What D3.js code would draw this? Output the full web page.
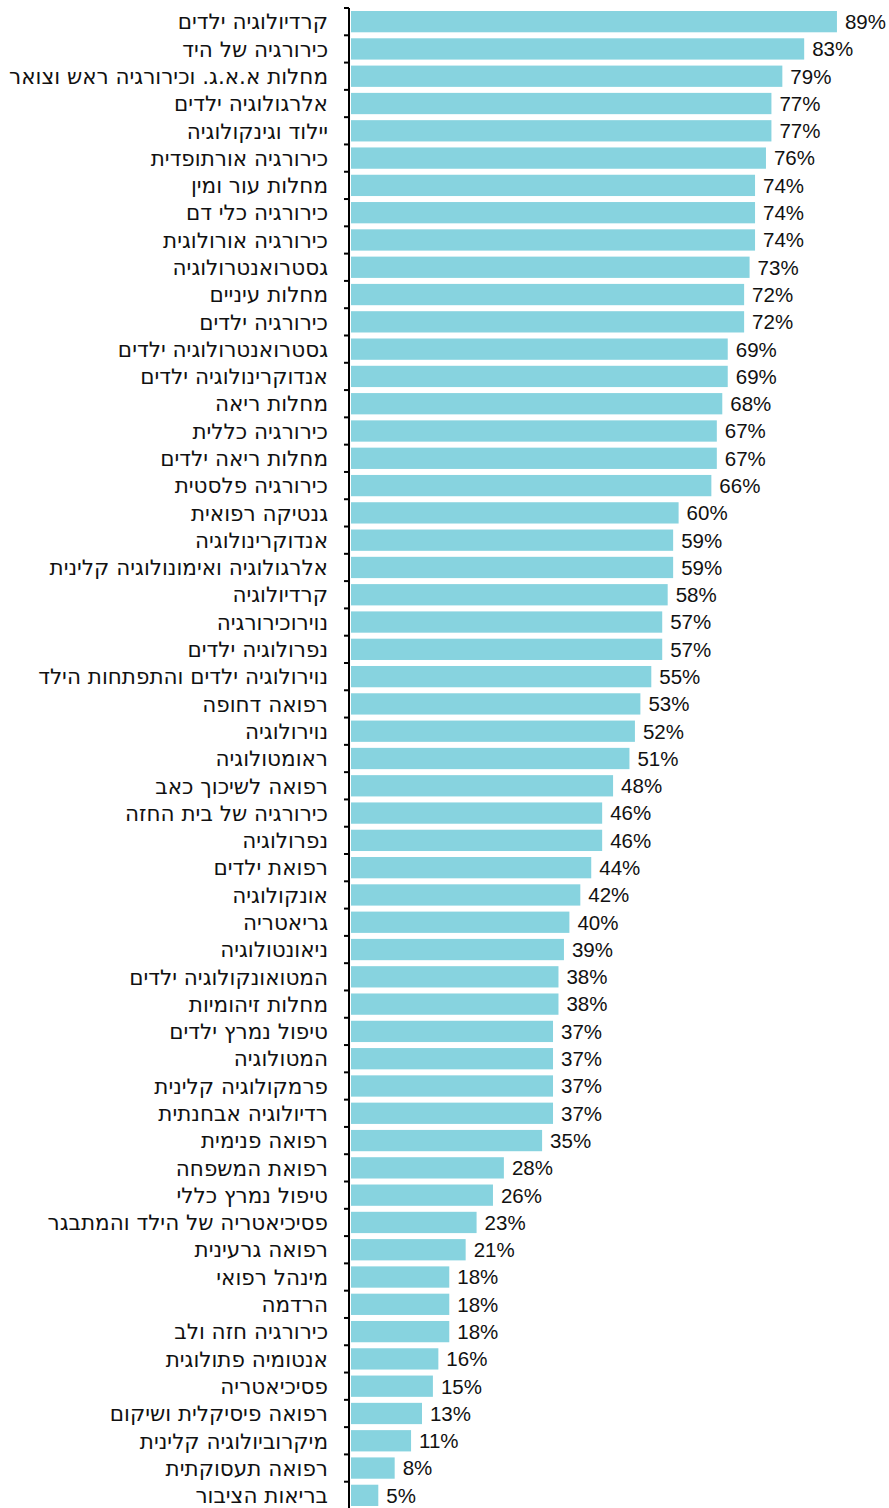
<!DOCTYPE html>
<html lang="he">
<head>
<meta charset="utf-8">
<script src="https://cdn.jsdelivr.net/npm/d3@7"></script>
<style>
  html, body { margin: 0; padding: 0; background: #ffffff; }
  svg { display: block; }
  text { fill: #111; }
  .cat { font-family: "DejaVu Sans", sans-serif; }
  .val { font-family: "Liberation Sans", Arial, sans-serif; }
</style>
</head>
<body>
<svg id="chart" width="889" height="1508"></svg>
<script>
// Specialties, top to bottom
const specialties = [
  "קרדיולוגיה ילדים",
  "כירורגיה של היד",
  "מחלות א.א.ג. וכירורגיה ראש וצואר",
  "אלרגולוגיה ילדים",
  "יילוד וגינקולוגיה",
  "כירורגיה אורתופדית",
  "מחלות עור ומין",
  "כירורגיה כלי דם",
  "כירורגיה אורולוגית",
  "גסטרואנטרולוגיה",
  "מחלות עיניים",
  "כירורגיה ילדים",
  "גסטרואנטרולוגיה ילדים",
  "אנדוקרינולוגיה ילדים",
  "מחלות ריאה",
  "כירורגיה כללית",
  "מחלות ריאה ילדים",
  "כירורגיה פלסטית",
  "גנטיקה רפואית",
  "אנדוקרינולוגיה",
  "אלרגולוגיה ואימונולוגיה קלינית",
  "קרדיולוגיה",
  "נוירוכירורגיה",
  "נפרולוגיה ילדים",
  "נוירולוגיה ילדים והתפתחות הילד",
  "רפואה דחופה",
  "נוירולוגיה",
  "ראומטולוגיה",
  "רפואה לשיכוך כאב",
  "כירורגיה של בית החזה",
  "נפרולוגיה",
  "רפואת ילדים",
  "אונקולוגיה",
  "גריאטריה",
  "ניאונטולוגיה",
  "המטואונקולוגיה ילדים",
  "מחלות זיהומיות",
  "טיפול נמרץ ילדים",
  "המטולוגיה",
  "פרמקולוגיה קלינית",
  "רדיולוגיה אבחנתית",
  "רפואה פנימית",
  "רפואת המשפחה",
  "טיפול נמרץ כללי",
  "פסיכיאטריה של הילד והמתבגר",
  "רפואה גרעינית",
  "מינהל רפואי",
  "הרדמה",
  "כירורגיה חזה ולב",
  "אנטומיה פתולוגית",
  "פסיכיאטריה",
  "רפואה פיסיקלית ושיקום",
  "מיקרוביולוגיה קלינית",
  "רפואה תעסוקתית",
  "בריאות הציבור"
];

// Percentage per specialty (same order)
const percents = [
  89, 83, 79, 77, 77, 76, 74, 74, 74, 73,
  72, 72, 69, 69, 68, 67, 67, 66, 60, 59,
  59, 58, 57, 57, 55, 53, 52, 51, 48, 46,
  46, 44, 42, 40, 39, 38, 38, 37, 37, 37,
  37, 35, 28, 26, 23, 21, 18, 18, 18, 16,
  15, 13, 11, 8, 5
];

const rows = specialties.map((name, i) => ({ name, value: percents[i] }));

const svg = d3.select("#chart");
const axisX = 349;

const x = d3.scaleLinear().domain([0, 100]).range([351, 351 + 546]);
const y = d3.scaleBand()
  .domain(specialties)
  .range([8, 1509])
  .paddingInner(0.22)
  .paddingOuter(0.11);

// Bars
svg.append("g")
  .selectAll("rect")
  .data(rows)
  .join("rect")
  .attr("x", x(0))
  .attr("y", d => y(d.name))
  .attr("width", d => x(d.value) - x(0))
  .attr("height", y.bandwidth())
  .attr("fill", "#87d3df");

// Category axis: vertical line with ticks at band boundaries
const step = y.step();
const start = y.range()[0];
const axis = svg.append("g").attr("stroke", "#000").attr("stroke-width", 2);
axis.append("line")
  .attr("x1", axisX).attr("x2", axisX)
  .attr("y1", start).attr("y2", 1508);
axis.selectAll("line.tick")
  .data(d3.range(specialties.length + 1))
  .join("line")
  .attr("class", "tick")
  .attr("x1", axisX - 5).attr("x2", axisX)
  .attr("y1", i => start + i * step)
  .attr("y2", i => start + i * step);

// Category labels
svg.append("g")
  .selectAll("text")
  .data(rows)
  .join("text")
  .attr("class", "cat")
  .attr("x", 328)
  .attr("y", d => y(d.name) + y.bandwidth() / 2)
  .attr("dy", "0.36em")
  .attr("direction", "rtl")
  .attr("text-anchor", "start")
  .attr("font-size", 21.5)
  .text(d => d.name);

// Value labels
svg.append("g")
  .selectAll("text")
  .data(rows)
  .join("text")
  .attr("class", "val")
  .attr("x", d => x(d.value) + 8)
  .attr("y", d => y(d.name) + y.bandwidth() / 2)
  .attr("dy", "0.36em")
  .attr("font-size", 20.5)
  .text(d => d.value + "%");
</script>
</body>
</html>
